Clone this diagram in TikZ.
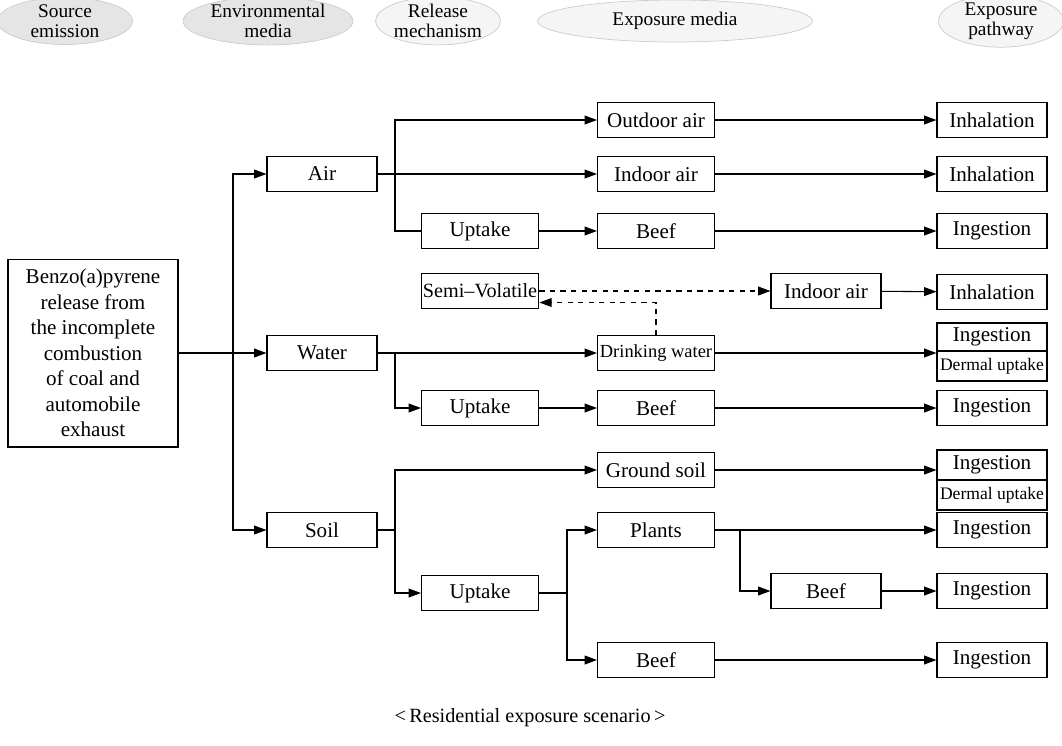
\documentclass[tikz,border=0pt]{standalone}
\usepackage{fontspec}
\setmainfont{Liberation Serif}
\usetikzlibrary{arrows.meta,shapes.geometric}

\begin{document}
\begin{tikzpicture}[x=0.02cm, y=-0.02cm, font=\fontsize{12}{14.5}\selectfont,
	main/.style = {draw, line width=0.6pt, minimum width=2.34cm, minimum height=0.69cm, inner sep=1pt},
	media/.style = {main, minimum width=2.2cm},
	way/.style = {main, minimum width=2.2cm, minimum height=0.7cm},
	head/.style = {ellipse, draw=gray!40, line width=0.4pt, fill=gray!20, align=center, minimum height=0.84cm, inner sep=0pt, font=\fontsize{11}{11.5}\selectfont},
	flow/.style = {line width=0.6pt, -{Triangle[length=7pt, width=5pt]}},
	link/.style = {line width=0.6pt}]
	\useasboundingbox (0,0) rectangle (1062,745);
	\node[head, minimum width=2.7cm] (h1) at (65,21) {Source\\emission};
	\node[head, minimum width=3.4cm] (h2) at (268,21) {Environmental\\media};
	\node[head, minimum width=2.5cm, fill=gray!8] (h3) at (438,21) {Release\\mechanism};
	\node[head, minimum width=5.5cm, fill=gray!8] (h4) at (675,21) {Exposure media};
	\node[head, minimum width=2.5cm, fill=gray!8] (h5) at (1001,21) {Exposure\\pathway};
	\node[main, minimum width=3.4cm, minimum height=3.76cm, align=center] (src) at (93,353) {Benzo(a)pyrene\\release from\\the incomplete\\combustion\\of coal and\\automobile\\exhaust};
	\node[media] (air) at (322,174) {Air};
	\node[media] (water) at (322,353) {Water};
	\node[media] (soil) at (322,530) {Soil};
	\node[main] (out) at (656,120) {Outdoor air};
	\node[main] (ind) at (656,174) {Indoor air};
	\node[main] (upa) at (480,231) {Uptake};
	\node[main] (bfa) at (656,231) {Beef};
	\node[main, font=\fontsize{11.5}{14}\selectfont] (sv) at (480,291) {Semi–Volatile};
	\node[way] (ind2) at (826,291) {Indoor air};
	\node[main, font=\fontsize{10.5}{13}\selectfont] (dw) at (656,353) {Drinking water};
	\node[main] (upw) at (480,408) {Uptake};
	\node[main] (bfw) at (656,408) {Beef};
	\node[main] (gs) at (656,470) {Ground soil};
	\node[main] (pl) at (656,530) {Plants};
	\node[main] (ups) at (480,593) {Uptake};
	\node[way] (bfs1) at (826,591) {Beef};
	\node[main] (bfs2) at (656,660) {Beef};
	\node[way] (inh1) at (992,120) {Inhalation};
	\node[way] (inh2) at (992,174) {Inhalation};
	\node[way] (ing1) at (992,231) {Ingestion};
	\node[way] (inh3) at (992,292) {Inhalation};
	\node[way, minimum height=0.56cm] (ing2) at (992,337) {Ingestion};
	\node[way, minimum height=0.6cm, font=\fontsize{10}{12}\selectfont] (der2) at (992,366) {Dermal uptake};
	\node[way] (ing3) at (992,408) {Ingestion};
	\node[way, minimum height=0.6cm] (ing4) at (992,465) {Ingestion};
	\node[way, minimum height=0.6cm, font=\fontsize{10}{12}\selectfont] (der4) at (992,495) {Dermal uptake};
	\node[way] (ing5) at (992,530) {Ingestion};
	\node[way] (ing6) at (992,591) {Ingestion};
	\node[way] (ing7) at (992,660) {Ingestion};
	\node[font=\fontsize{11.5}{14}\selectfont] (cap) at (530,718) {<\,Residential exposure scenario\,>};
	\coordinate (js) at (233,353);
	\coordinate (ja) at (395,174);
	\coordinate (jw) at (395,353);
	\coordinate (jo) at (395,530);
	\coordinate (jp) at (567,593);
	\coordinate (jq) at (740,530);
	\draw[flow] (src) -- (water);
	\draw[flow] (js) |- (air);
	\draw[flow] (js) |- (soil);
	\draw[flow] (air) -- (ind);
	\draw[flow] (ja) |- (out);
	\draw[link] (ja) |- (upa);
	\draw[flow] (upa) -- (bfa);
	\draw[flow] (out) -- (inh1);
	\draw[flow] (ind) -- (inh2);
	\draw[flow] (bfa) -- (ing1);
	\draw[flow] (water) -- (dw);
	\draw[flow] (jw) |- (upw);
	\draw[flow] (upw) -- (bfw);
	\draw[flow] (bfw) -- (ing3);
	\draw[flow] (dw.east) -- (dw.east -| der2.west);
	\draw[flow, dashed] (sv) -- (ind2);
	\draw[flow, dashed] (dw.north) |- ([yshift=-0.23cm]sv.east);
	\draw[flow] (ind2) -- (inh3);
	\draw[link] (soil) -- (jo);
	\draw[flow] (jo) |- (gs);
	\draw[flow] (jo) |- (ups);
	\draw[flow] (gs.east) -- (gs.east -| ing4.west);
	\draw[link] (ups) -- (jp);
	\draw[flow] (jp) |- (pl);
	\draw[flow] (jp) |- (bfs2);
	\draw[flow] (pl) -- (ing5);
	\draw[flow] (jq) |- (bfs1);
	\draw[flow] (bfs1) -- (ing6);
	\draw[flow] (bfs2) -- (ing7);
\end{tikzpicture}
\end{document}
